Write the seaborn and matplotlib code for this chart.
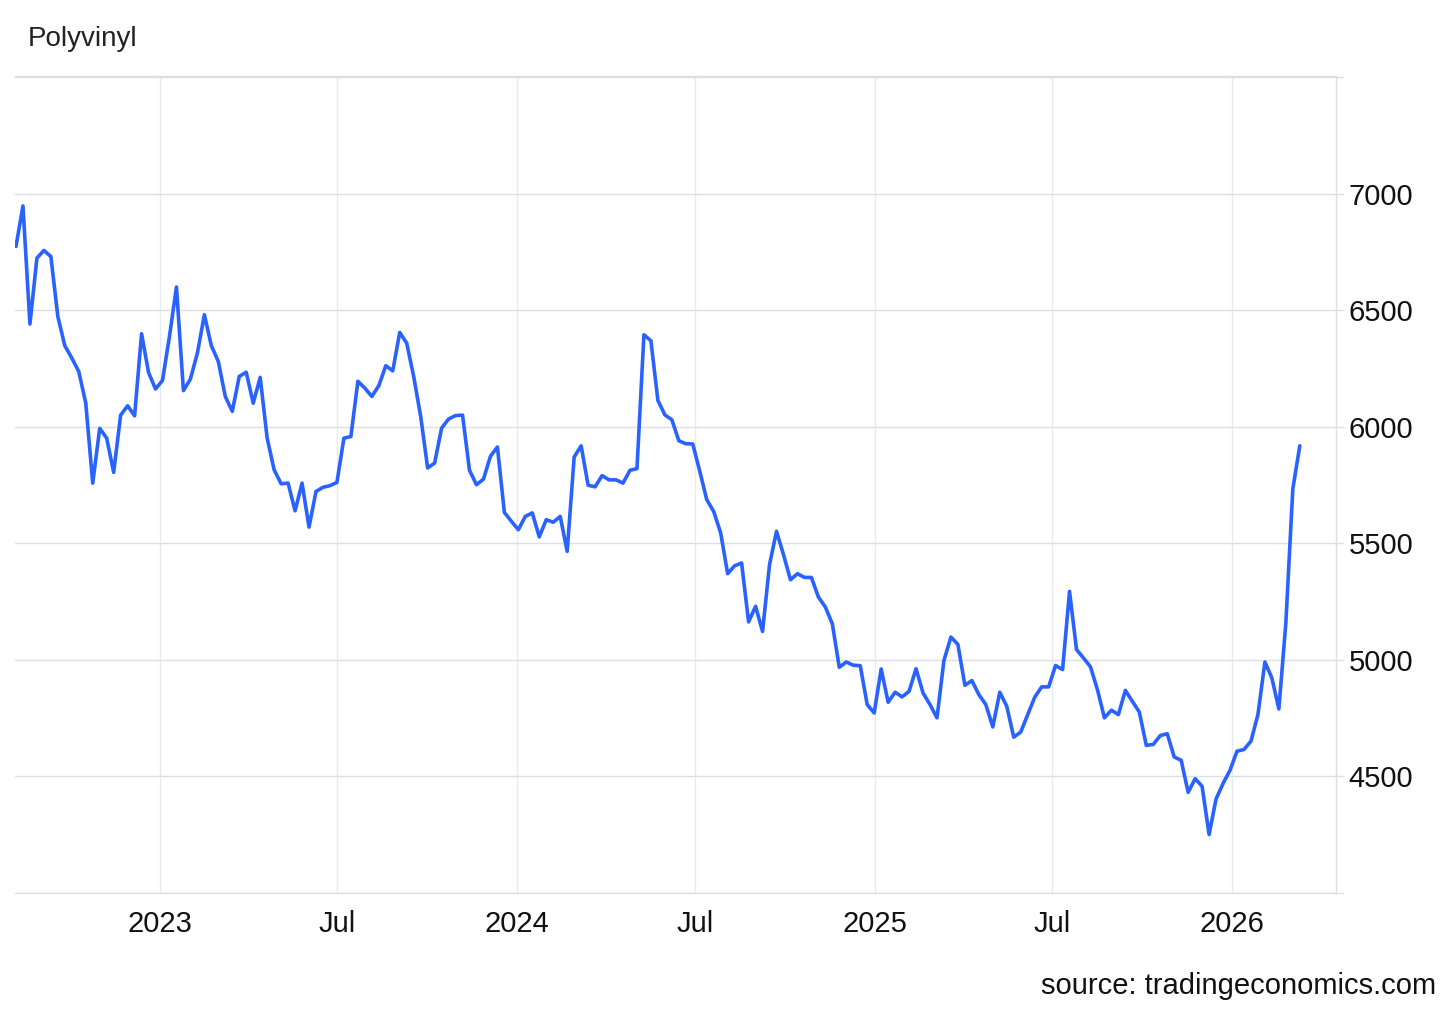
import matplotlib.pyplot as plt
import matplotlib.dates as mdates
import seaborn as sns
import pandas as pd

# weekly polyvinyl price
values = [
    6774, 6948, 6441, 6724, 6757, 6731, 6473, 6348, 6295, 6237, 6102, 5758, 5993, 5951, 5804, 6050,
    6090, 6047, 6399, 6233, 6162, 6199, 6388, 6600, 6155, 6205, 6316, 6481, 6348, 6280, 6130,
    6066, 6216, 6234, 6101, 6212, 5951, 5815, 5755, 5758, 5639, 5758, 5569, 5722, 5740, 5747,
    5761, 5951, 5958, 6195, 6166, 6130, 6176, 6262, 6240, 6405, 6359, 6216, 6045, 5823, 5844,
    5994, 6033, 6048, 6050, 5813, 5751, 5775, 5873, 5913, 5632, 5594, 5558, 5615, 5630, 5527,
    5601, 5590, 5615, 5465, 5870, 5918, 5749, 5742, 5790, 5772, 5772, 5758, 5813, 5820,
    6395, 6369, 6113, 6051, 6030, 5940, 5927, 5926, 5809, 5687, 5636, 5544, 5369, 5403, 5415,
    5162, 5229, 5121, 5408, 5551, 5451, 5343, 5369, 5353, 5353, 5269, 5226, 5154, 4967, 4990,
    4976, 4974,
    4807, 4771, 4960, 4817, 4860, 4840, 4864, 4961, 4857, 4807, 4750, 4997, 5097, 5065, 4890,
    4910, 4850, 4807, 4711, 4860, 4800, 4667, 4689, 4764, 4838, 4883, 4883, 4975, 4957,
    5293, 5043, 5007, 4969, 4871, 4750, 4783, 4764, 4868, 4821, 4775, 4632, 4636, 4674, 4682,
    4582, 4568, 4430, 4489, 4456, 4249, 4402, 4468, 4525, 4607, 4614, 4650, 4764, 4990, 4921,
    4788, 5157, 5733, 5918,
]
start_date = "2022-08-07"
end_date = "2026-03-11"

# tick labels
x_tick_dates = ["2023-01-01", "2023-07-01", "2024-01-01", "2024-07-01",
                "2025-01-01", "2025-07-01", "2026-01-01"]
x_tick_labels = ["2023", "Jul", "2024", "Jul", "2025", "Jul", "2026"]
y_ticks = [4000, 4500, 5000, 5500, 6000, 6500, 7000, 7500]
y_tick_labels = ["", "4500", "5000", "5500", "6000", "6500", "7000", ""]

df = pd.DataFrame({
    "date": pd.date_range(start_date, end_date, periods=len(values)),
    "price": values,
})

sns.set_style("white")
plt.rcParams['font.family'] = ['Liberation Sans', 'DejaVu Sans']

fig = plt.figure(figsize=(14.56, 10.09), dpi=100)
ax = fig.add_axes([15 / 1456, 1 - 893 / 1009, 1321 / 1456, 817 / 1009])

sns.lineplot(data=df, x="date", y="price", ax=ax, color="#2962ff", linewidth=2.6)

# axis limits
ax.set_xlim(pd.Timestamp("2022-08-06"), pd.Timestamp("2026-04-17"))
ax.set_ylim(3998, 7506)

# x axis
ax.set_xticks(pd.to_datetime(x_tick_dates))
ax.set_xticklabels(x_tick_labels, fontsize=21, color="#111111")
ax.tick_params(axis="x", length=0, pad=12)
ax.xaxis.grid(True, color="#e4ecf3", linewidth=1)

# y axis on the right
ax.yaxis.tick_right()
ax.set_yticks(y_ticks)
ax.set_yticklabels(y_tick_labels, fontsize=21, color="#111111")
ax.tick_params(axis="y", length=6, width=1, color="#dcdfe3", pad=3)
ax.yaxis.grid(True, color="#dcdfe3", linewidth=1)

ax.set_xlabel("")
ax.set_ylabel("")

for side in ["top", "bottom", "right"]:
    ax.spines[side].set_color("#dcdfe3")
    ax.spines[side].set_linewidth(1)
ax.spines["left"].set_visible(False)

# title and source
fig.text(28 / 1456, 1 - 39 / 1009, "Polyvinyl", fontsize=20, color="#222222", va="center")
fig.text(1436 / 1456, 1 - 986 / 1009, "source: tradingeconomics.com", fontsize=21,
         color="#111111", ha="right", va="center")

plt.savefig("out.png", dpi=100)
